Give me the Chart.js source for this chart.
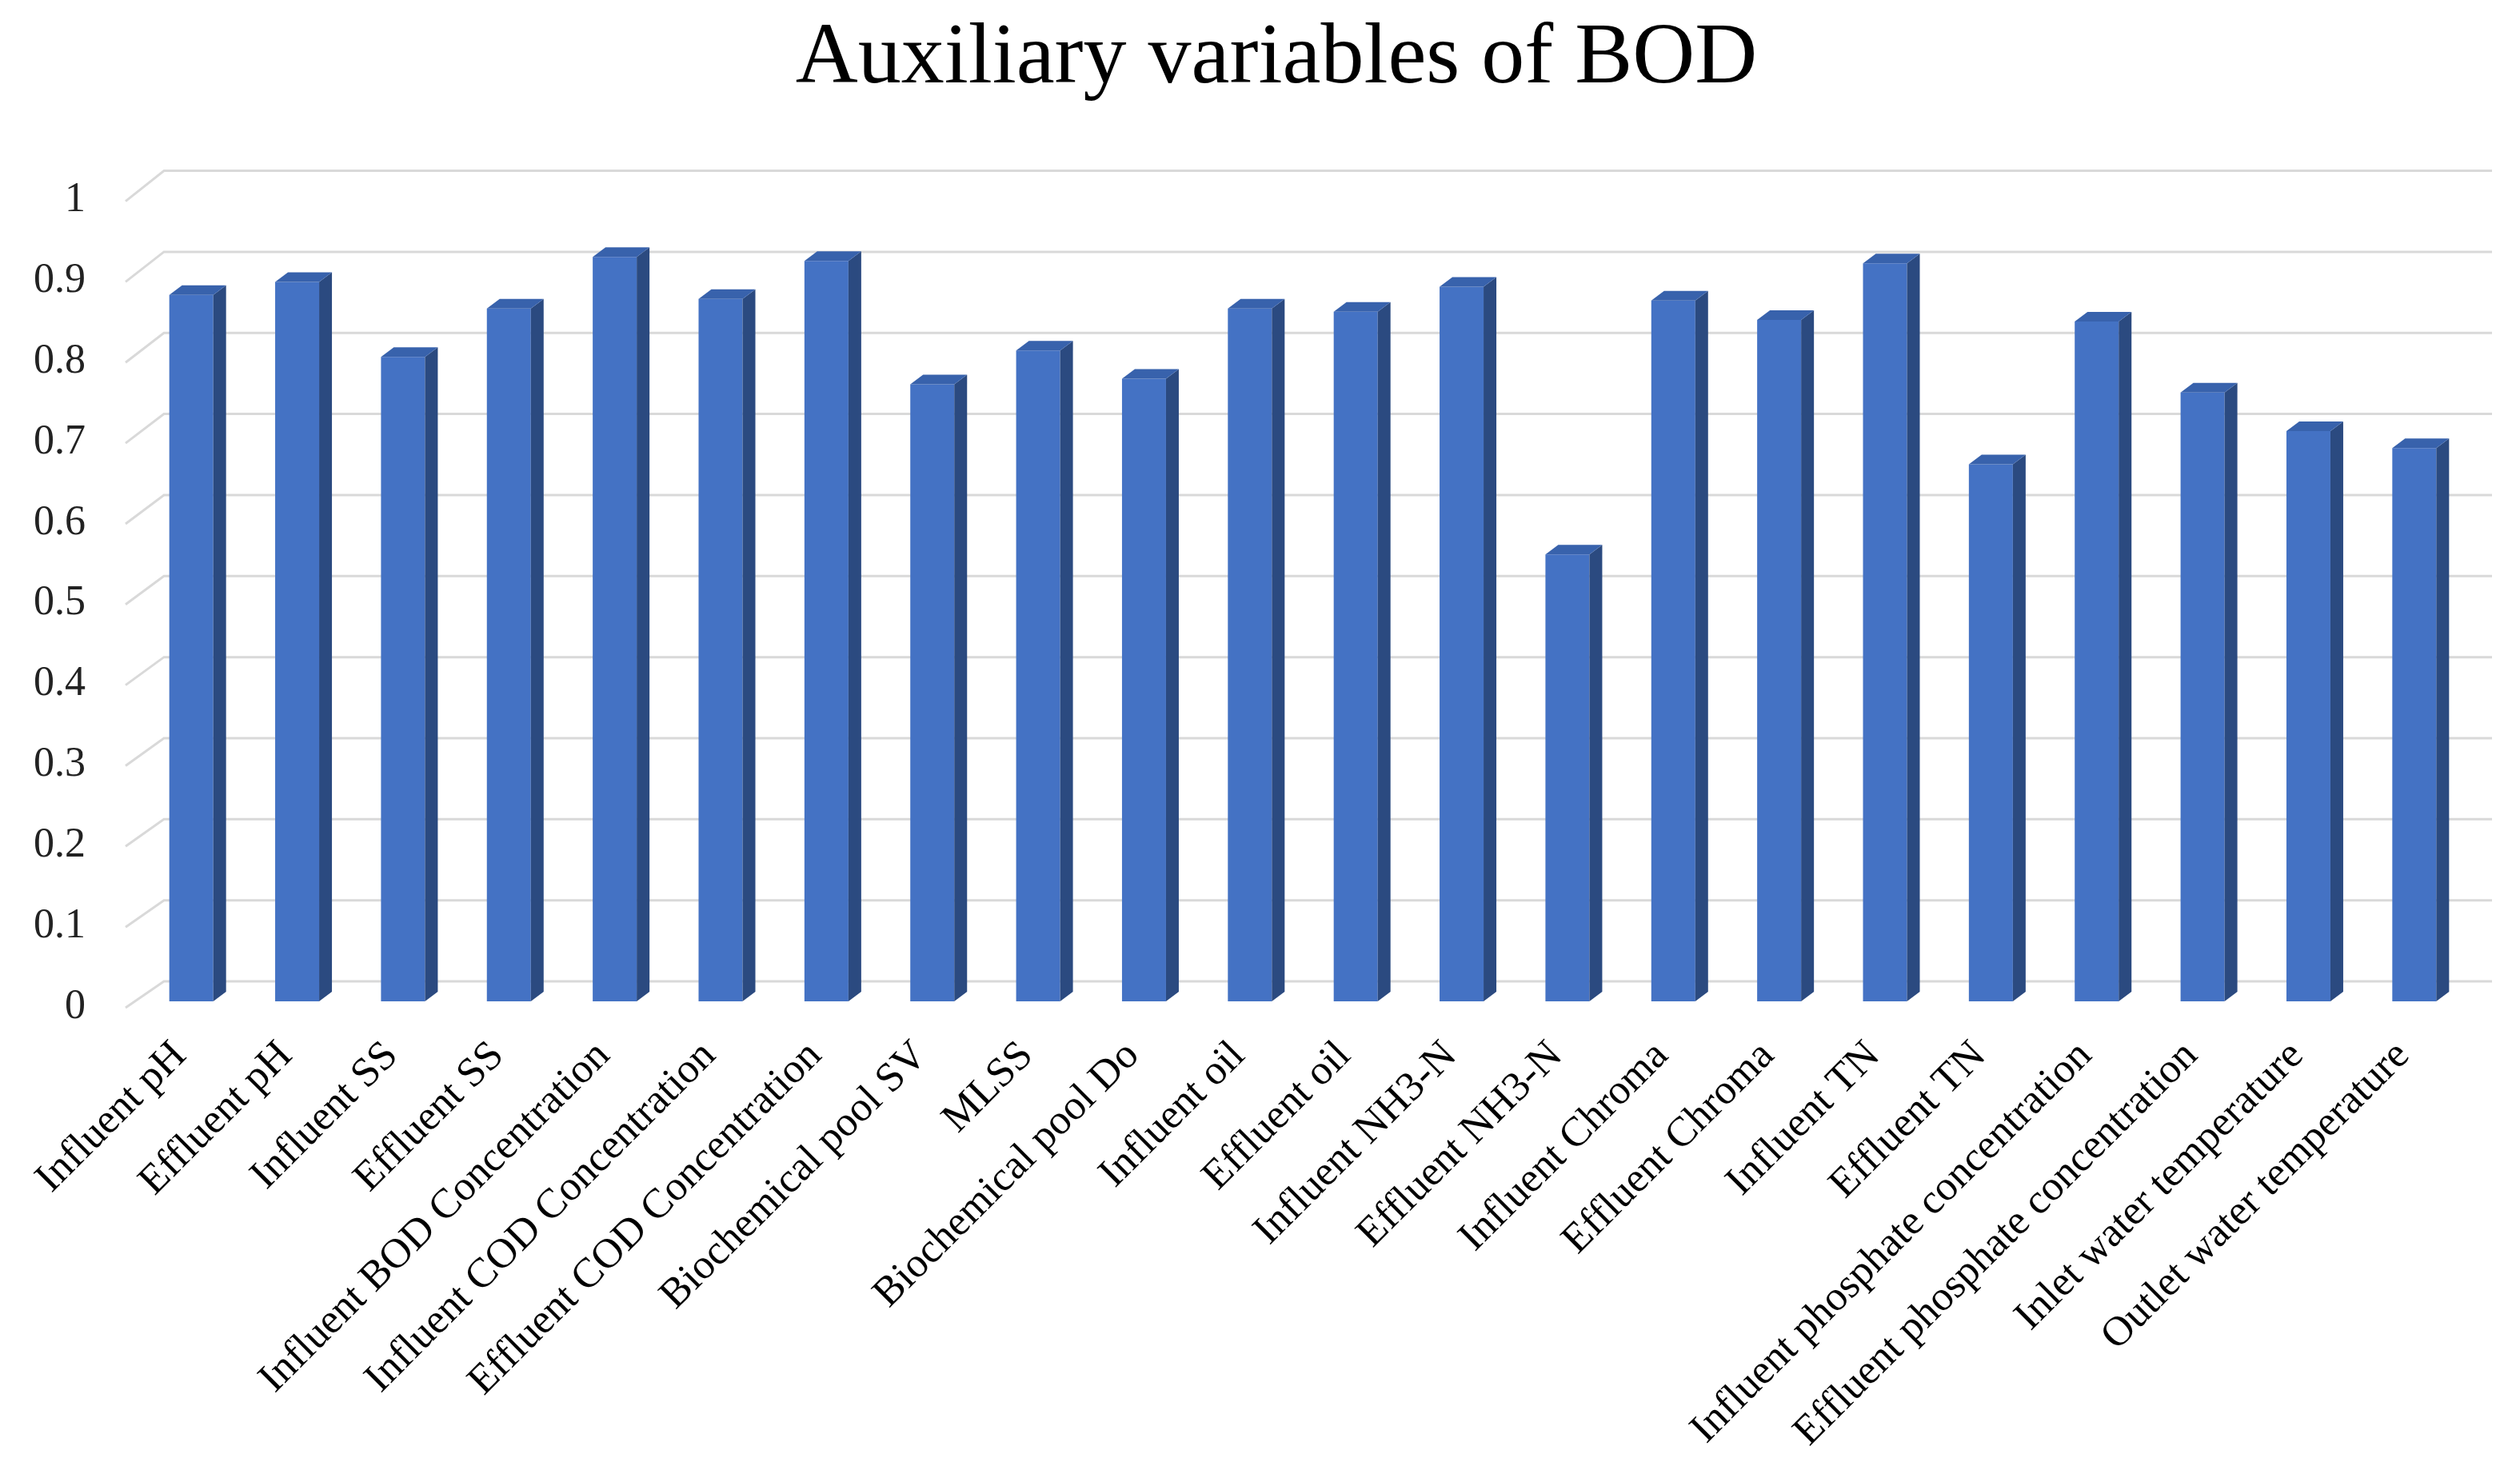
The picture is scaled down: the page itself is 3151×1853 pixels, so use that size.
<!DOCTYPE html>
<html>
<head>
<meta charset="utf-8">
<title>Auxiliary variables of BOD</title>
<script src="https://cdn.jsdelivr.net/npm/chart.js@4.4.1/dist/chart.umd.min.js"></script>
<style>
  html, body { margin: 0; padding: 0; background: #fff; }
  #wrap { width: 3151px; height: 1853px; }
</style>
</head>
<body>
<div id="wrap"><canvas id="bodChart"></canvas></div>
<script>
const categories = [
    'Influent pH', 'Effluent pH', 'Influent SS', 'Effluent SS',
    'Influent BOD Concentration', 'Influent COD Concentration', 'Effluent COD Concentration',
    'Biochemical pool SV', 'MLSS', 'Biochemical pool Do', 'Influent oil', 'Effluent oil',
    'Influent NH3-N', 'Effluent NH3-N', 'Influent Chroma', 'Effluent Chroma',
    'Influent TN', 'Effluent TN', 'Influent phosphate concentration',
    'Effluent phosphate concentration', 'Inlet water temperature', 'Outlet water temperature'
];
const correlation = [
    0.876, 0.892, 0.799, 0.859, 0.923, 0.871, 0.918, 0.765, 0.807, 0.772, 0.859,
    0.855, 0.886, 0.554, 0.869, 0.845, 0.915, 0.666, 0.843, 0.755, 0.707, 0.686
];
const yTicks = [0, 0.1, 0.2, 0.3, 0.4, 0.5, 0.6, 0.7, 0.8, 0.9, 1];

const DEPTH_X = 16, DEPTH_Y = 12;

// back wall gridlines with the little slanted floor edge on the left
const wallGrid = {
    id: 'wallGrid',
    beforeDatasetsDraw(chart) {
        const ctx = chart.ctx;
        const y = chart.scales.y;
        ctx.save();
        ctx.strokeStyle = '#d9d9d9';
        ctx.lineWidth = 3;
        yTicks.forEach(v => {
            const py = y.getPixelForValue(v);
            const back = py - 25 - 5 * v;
            ctx.beginPath();
            ctx.moveTo(157, py + 8);
            ctx.lineTo(205, back);
            ctx.lineTo(3116, back);
            ctx.stroke();
        });
        ctx.restore();
    }
};

// side and top faces for the columns
const columns3d = {
    id: 'columns3d',
    afterDatasetsDraw(chart) {
        const ctx = chart.ctx;
        const meta = chart.getDatasetMeta(0);
        ctx.save();
        meta.data.forEach(bar => {
            const p = bar.getProps(['x', 'y', 'base', 'width'], true);
            const l = p.x - p.width / 2, r = p.x + p.width / 2;
            ctx.fillStyle = '#2b4a80';
            ctx.beginPath();
            ctx.moveTo(r, p.y);
            ctx.lineTo(r + DEPTH_X, p.y - DEPTH_Y);
            ctx.lineTo(r + DEPTH_X, p.base - DEPTH_Y);
            ctx.lineTo(r, p.base);
            ctx.closePath();
            ctx.fill();
            ctx.fillStyle = '#3862ac';
            ctx.beginPath();
            ctx.moveTo(l, p.y);
            ctx.lineTo(l + DEPTH_X, p.y - DEPTH_Y);
            ctx.lineTo(r + DEPTH_X, p.y - DEPTH_Y);
            ctx.lineTo(r, p.y);
            ctx.closePath();
            ctx.fill();
        });
        ctx.restore();
    }
};

// centre the title over the plot rather than over the whole canvas
const titleCentre = {
    id: 'titleCentre',
    afterLayout(chart) {
        if (chart.titleBlock) {
            chart.titleBlock.left = 107;
            chart.titleBlock.right = chart.chartArea.right;
        }
    }
};

const ctx = document.getElementById('bodChart').getContext('2d');
new Chart(ctx, {
    type: 'bar',
    data: {
        labels: categories,
        datasets: [{
            label: 'Auxiliary variables of BOD',
            data: correlation,
            backgroundColor: '#4472c4',
            barPercentage: 0.4156,
            categoryPercentage: 1
        }]
    },
    options: {
        responsive: true,
        maintainAspectRatio: false,
        animation: false,
        layout: { padding: { left: 0, right: 66, top: 0, bottom: 0 } },
        plugins: {
            legend: { display: false },
            tooltip: { enabled: false },
            title: {
                display: true,
                text: 'Auxiliary variables of BOD',
                color: '#000',
                font: { family: 'Liberation Serif', size: 108, weight: 'normal', lineHeight: 1.2 },
                padding: { top: 10, bottom: 104 }
            }
        },
        scales: {
            x: {
                grid: { display: false },
                border: { display: false },
                ticks: {
                    autoSkip: false,
                    minRotation: 45,
                    maxRotation: 45,
                    padding: 30,
                    labelOffset: -14,
                    color: '#000',
                    font: { family: 'Liberation Serif', size: 52 }
                },
                afterFit(scale) { scale.height = 601; }
            },
            y: {
                min: 0,
                max: 1,
                grid: { display: false },
                border: { display: false },
                ticks: {
                    stepSize: 0.1,
                    padding: 58,
                    labelOffset: 7,
                    color: '#222',
                    font: { family: 'Liberation Serif', size: 52 },
                    callback: v => String(+v.toFixed(1))
                },
                afterFit(scale) { scale.width = 173; }
            }
        }
    },
    plugins: [wallGrid, columns3d, titleCentre]
});
</script>
</body>
</html>
